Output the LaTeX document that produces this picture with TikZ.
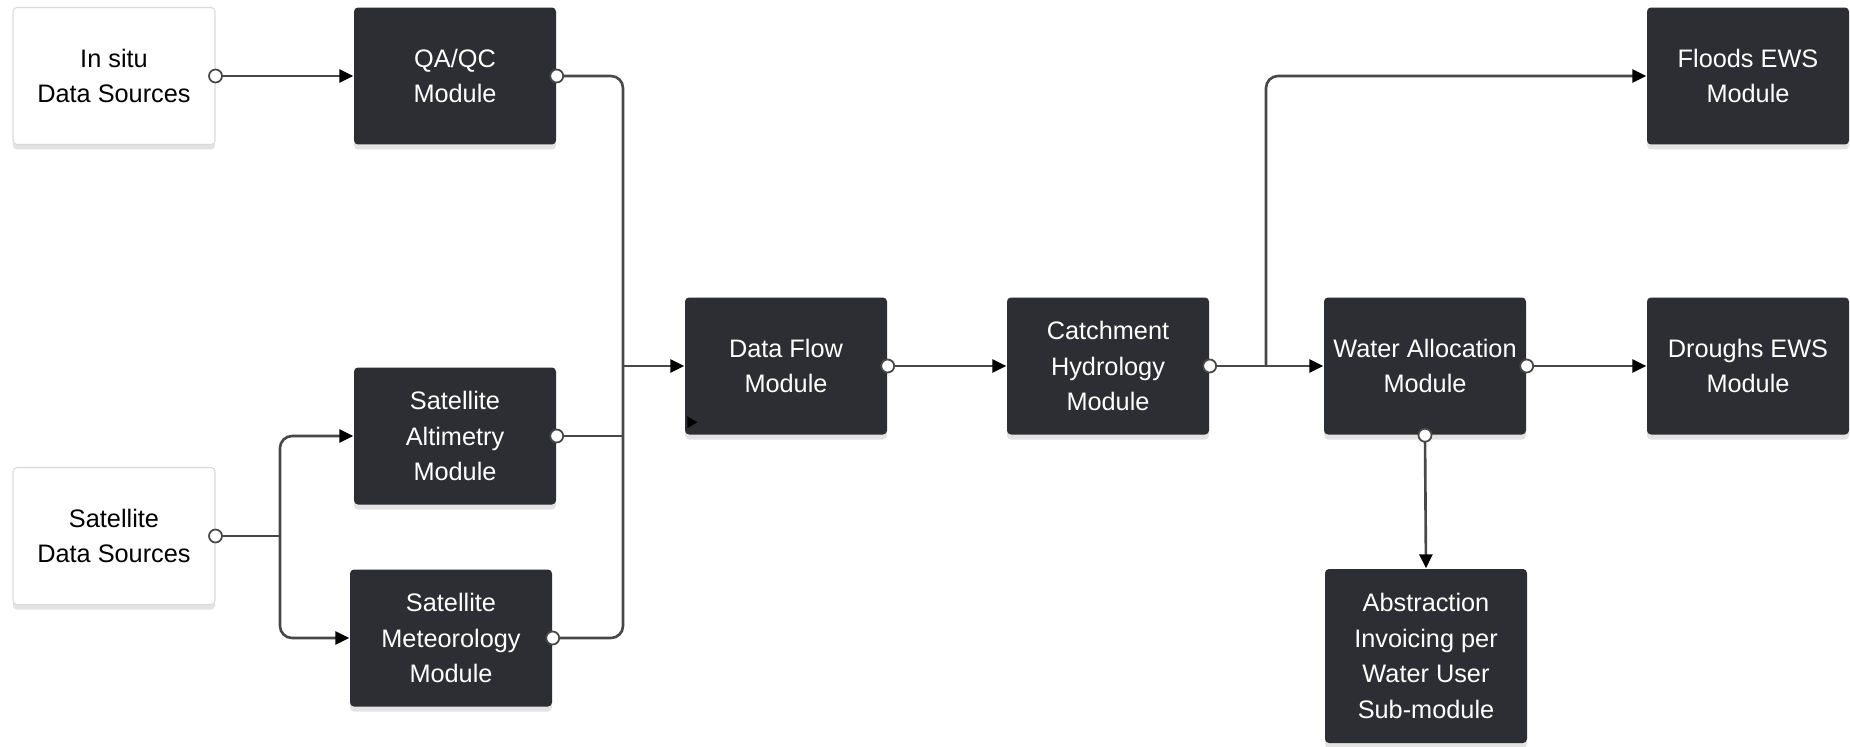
\documentclass[tikz,border=0pt]{standalone}
\usepackage{fontspec}
\setmainfont{Liberation Sans}
\usetikzlibrary{arrows.meta,shadows}
\definecolor{cBox}{RGB}{44,46,51}
\definecolor{cEdge}{RGB}{218,218,218}
\definecolor{cLine}{RGB}{72,72,72}

\begin{document}
\begin{tikzpicture}[x=0.1mm, y=-0.1mm,
  every node/.style={font=\fontsize{7.2}{10.1}\selectfont, align=center},
  module/.style={fill=cBox, text=white, rounded corners=0.4mm,
    minimum width=20.2mm, minimum height=13.7mm, inner sep=0.5mm,
    drop shadow={opacity=0.22, shadow xshift=0mm, shadow yshift=-0.5mm}},
  source/.style={module, fill=white, draw=cEdge, text=black, line width=0.3pt},
  wire/.style={draw=cLine, line width=0.75pt},
  conn/.style={wire, -{Triangle[length=1.4mm, width=1.3mm, color=black]}},
  port/.style={fill=white, draw=cLine, line width=0.5pt}]
  \useasboundingbox (0,0) rectangle (1850,747);
  % data sources
  \node[source] (insitu) at (114,76) {In situ\\Data Sources};
  \node[source] (satsrc) at (114,536) {Satellite\\Data Sources};
  % first modules
  \node[module] (qaqc)  at (455,76)  {QA/QC\\Module};
  \node[module] (altim) at (455,436) {Satellite\\Altimetry\\Module};
  \node[module] (meteo) at (451,638) {Satellite\\Meteorology\\Module};
  % main chain
  \node[module] (dataflow)   at (786,366)  {Data Flow\\Module};
  \node[module] (catch)      at (1108,366) {Catchment\\Hydrology\\Module};
  \node[module] (wateralloc) at (1425,366) {Water Allocation\\Module};
  \node[module] (floods)     at (1748,76)  {Floods EWS\\Module};
  \node[module] (droughts)   at (1748,366) {Droughs EWS\\Module};
  \node[module, minimum height=17.4mm] (abstr) at (1426,656)
    {Abstraction\\Invoicing per\\Water User\\Sub-module};
  \fill (dataflow.south west) ++(3,-19) -- ++(10,6) -- ++(-10,6) -- cycle;
  % junctions
  \coordinate (split) at (280,536);
  \coordinate (trunk) at (623,366);
  \coordinate (fork)  at (1266,366);
  % connectors
  \draw[conn] (insitu.east) -- (qaqc.west);
  \draw[wire] (satsrc.east) -- (split);
  \draw[conn, rounded corners=1.2mm] (split) |- (altim.west);
  \draw[conn, rounded corners=1.2mm] (split) |- (meteo.west);
  \draw[wire, rounded corners=1.2mm] (qaqc.east) -| (trunk) |- (meteo.east);
  \draw[wire] (altim.east) -- (altim.east -| trunk);
  \draw[conn] (trunk) -- (dataflow.west);
  \draw[conn] (dataflow.east) -- (catch.west);
  \draw[conn] (catch.east) -- (wateralloc.west);
  \draw[conn, rounded corners=1.2mm] (fork) |- (floods.west);
  \draw[conn] (wateralloc.east) -- (droughts.west);
  \draw[conn] (wateralloc.south) -- (abstr.north);
  % ports
  \foreach \p in {insitu.east, satsrc.east, qaqc.east, altim.east, meteo.east,
                  dataflow.east, catch.east, wateralloc.east, wateralloc.south}{%
    \filldraw[port] (\p) circle (0.65mm);
  }
\end{tikzpicture}
\end{document}
